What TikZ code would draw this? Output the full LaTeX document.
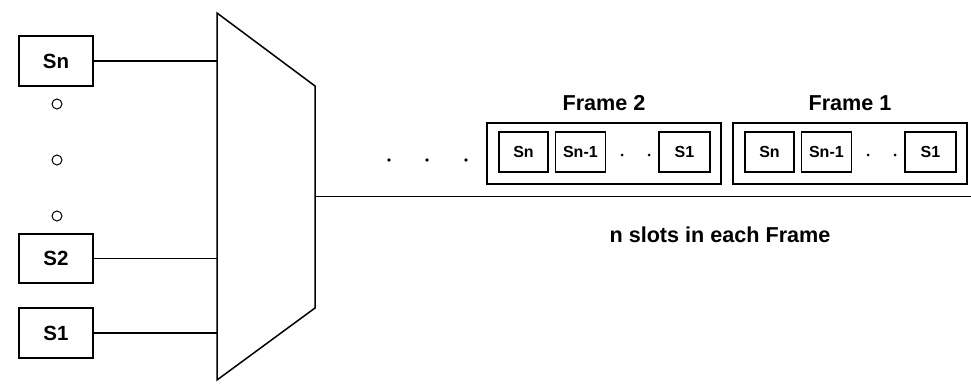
\documentclass[tikz,border=0pt]{standalone}
\usepackage{fontspec}
\setmainfont{Liberation Sans}
\usepackage{tikz}
\usetikzlibrary{calc, positioning}

\begin{document}
\begin{tikzpicture}[x=1pt, y=-1pt, node distance=6pt]
	\tikzstyle{src} = [draw, line width=1.5pt, minimum width=74pt, minimum height=50pt, inner sep=0pt, font=\fontsize{20.5}{24}\selectfont\bfseries]
	\tikzstyle{slot} = [draw, line width=1.4pt, minimum width=49pt, minimum height=40pt, inner sep=0pt, font=\fontsize{16}{19}\selectfont\bfseries]
	\tikzstyle{frame} = [draw, line width=1.5pt, minimum width=234pt, minimum height=61pt, inner sep=0pt]
	\tikzstyle{label} = [inner sep=0pt, font=\fontsize{21.6}{25}\selectfont\bfseries]
	\tikzstyle{gap} = [draw, line width=1pt, circle, minimum size=10pt, inner sep=0pt]
	\tikzstyle{dot} = [fill, circle, minimum size=3.6pt, inner sep=0pt]
	\tikzstyle{tiny} = [fill, circle, minimum size=3pt, inner sep=0pt]

	\useasboundingbox (0,0) rectangle (971,383);

	% sources
	\node[src] (sn) at (56,61) {Sn};
	\node[src, minimum height=49pt] (s2) at (56,258.5) {S2};
	\node[src] (s1) at (56,333) {S1};
	\node[gap] (o1) at (57,104) {};
	\node[gap] (o2) at (57,160) {};
	\node[gap] (o3) at (57,216) {};

	% multiplexer
	\coordinate (mtl) at (217,13);
	\coordinate (mtr) at (315,86);
	\coordinate (mbr) at (315,308);
	\coordinate (mbl) at (217,380);
	\coordinate (mout) at (315,196.5);
	\coordinate (lineend) at (971,196.5);
	\draw[line width=1.5pt, line join=miter] (mtl) -- (mtr) -- (mbr) -- (mbl) -- cycle;

	\path[line width=1.5pt]
		(sn) edge (sn -| mtl)
		(s2) edge (s2 -| mtl)
		(s1) edge (s1 -| mtl)
		(mout) edge (lineend)
	;

	\node[dot] (d1) at (389,160) {};
	\node[dot] (d2) at (427,160) {};
	\node[dot] (d3) at (466,160) {};

	\begin{scope}
		\node[frame] (f2) at (604,153.5) {};
		\node[label, above=11pt of f2] (f2lbl) {Frame 2};
		\node[slot] (f2a) at (523.5,152) {Sn};
		\node[slot, right=of f2a, minimum width=50pt] (f2b) {Sn-1};
		\node[tiny] (f2d1) at (622,155) {};
		\node[tiny] (f2d2) at (649,155) {};
		\node[slot, minimum width=51pt] (f2c) at (684.5,152) {S1};
	\end{scope}

	\begin{scope}[xshift=246pt]
		\node[frame] (f1) at (604,153.5) {};
		\node[label, above=11pt of f1] (f1lbl) {Frame 1};
		\node[slot] (f1a) at (523.5,152) {Sn};
		\node[slot, right=of f1a, minimum width=50pt] (f1b) {Sn-1};
		\node[tiny] (f1d1) at (622,155) {};
		\node[tiny] (f1d2) at (649,155) {};
		\node[slot, minimum width=51pt] (f1c) at (684.5,152) {S1};
	\end{scope}

	\node[label] (note) at (720,235) {n slots in each Frame};
\end{tikzpicture}
\end{document}
